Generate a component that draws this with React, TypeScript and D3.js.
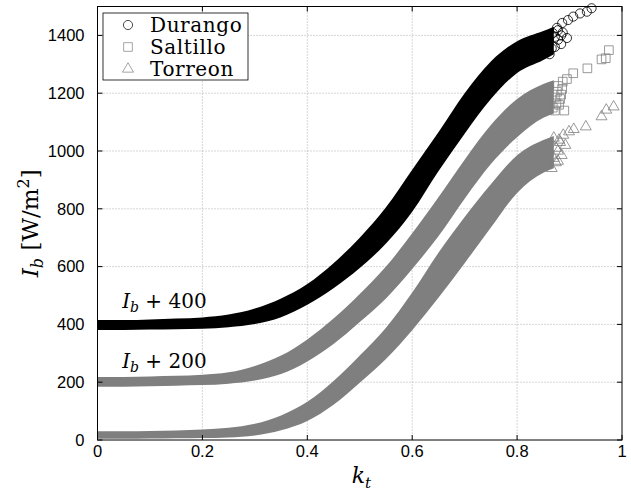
import { scaleLinear, area, curveMonotoneX, symbol, symbolCircle, symbolSquare, symbolTriangle } from "d3";

const width = 631;
const height = 495;
const margin = { top: 6.5, right: 9, bottom: 55, left: 97.5 };
const innerWidth = width - margin.left - margin.right;
const innerHeight = height - margin.top - margin.bottom;

const ktGrid = [0, 0.05, 0.1, 0.15, 0.2, 0.25, 0.3, 0.35, 0.4, 0.45, 0.5, 0.55, 0.6, 0.65, 0.7, 0.75, 0.8, 0.85, 0.87];

// Durango (Ib + 400), lower / upper edge of the point cloud
const durangoLow = [381, 381, 382, 383, 385, 390, 401, 425, 468, 525, 595, 680, 790, 930, 1060, 1180, 1270, 1315, 1335];
const durangoHigh = [415, 415, 417, 420, 424, 434, 455, 490, 540, 612, 700, 805, 935, 1065, 1200, 1310, 1380, 1415, 1430];
// Saltillo (Ib + 200)
const saltilloLow = [184, 184, 186, 188, 190, 195, 206, 228, 272, 332, 408, 490, 592, 705, 835, 955, 1048, 1115, 1130];
const saltilloHigh = [218, 218, 220, 222, 226, 234, 256, 292, 348, 420, 505, 600, 715, 840, 970, 1090, 1180, 1232, 1245];
// Torreon (Ib)
const torreonLow = [4, 4, 5, 6, 7, 9, 16, 34, 66, 122, 198, 280, 380, 492, 612, 735, 855, 925, 940];
const torreonHigh = [30, 30, 31, 33, 36, 42, 56, 85, 132, 204, 292, 388, 510, 648, 772, 885, 985, 1038, 1052];

// sparse points at and past the end of the clouds
const durangoTailKt = [0.862, 0.866, 0.868, 0.872, 0.872, 0.876, 0.878, 0.878, 0.884, 0.884, 0.886, 0.887, 0.895, 0.897, 0.907, 0.92, 0.933, 0.942];
const durangoTailVal = [1335, 1355, 1408, 1360, 1395, 1426, 1385, 1418, 1400, 1370, 1443, 1410, 1391, 1453, 1465, 1476, 1482, 1494];
const saltilloTailKt = [0.868, 0.872, 0.872, 0.875, 0.876, 0.878, 0.88, 0.882, 0.884, 0.886, 0.887, 0.89, 0.895, 0.907, 0.934, 0.961, 0.969, 0.975];
const saltilloTailVal = [1150, 1140, 1185, 1165, 1205, 1225, 1160, 1180, 1195, 1215, 1240, 1140, 1249, 1269, 1286, 1317, 1321, 1349];
const torreonTailKt = [0.866, 0.87, 0.87, 0.874, 0.874, 0.878, 0.878, 0.88, 0.882, 0.885, 0.888, 0.892, 0.899, 0.908, 0.931, 0.961, 0.97, 0.984];
const torreonTailVal = [940, 975, 1045, 960, 1010, 1000, 965, 1038, 1030, 985, 1055, 1020, 1067, 1075, 1084, 1119, 1142, 1153];

const seriesNames = ["Durango", "Saltillo", "Torreon"];
const offsetLabels = ["400", "200"];
const offsetLabelKt = [0.047, 0.047];
const offsetLabelVal = [457, 249];

const xTicks = [0, 0.2, 0.4, 0.6, 0.8, 1];
const xTickLabels = ["0", "0.2", "0.4", "0.6", "0.8", "1"];
const yTicks = [0, 200, 400, 600, 800, 1000, 1200, 1400];

const xScale = scaleLinear().domain([0, 1]).range([0, innerWidth]);
const yScale = scaleLinear().domain([0, 1500]).range([innerHeight, 0]);

const gray = "#7f7f7f";
const series = [
  { name: seriesNames[2], low: torreonLow, high: torreonHigh, tk: torreonTailKt, tv: torreonTailVal, color: gray, sym: symbolTriangle, size: 52 },
  { name: seriesNames[1], low: saltilloLow, high: saltilloHigh, tk: saltilloTailKt, tv: saltilloTailVal, color: gray, sym: symbolSquare, size: 75 },
  { name: seriesNames[0], low: durangoLow, high: durangoHigh, tk: durangoTailKt, tv: durangoTailVal, color: "#000", sym: symbolCircle, size: 66 },
];

const band = area<number>()
  .x((d) => xScale(ktGrid[d]))
  .curve(curveMonotoneX);

const sansFont = "'Liberation Sans', Arial, sans-serif";
const serifFont = "'DejaVu Serif', serif";

function App() {
  const idx = ktGrid.map((_, i) => i);
  const legendSeries = [series[2], series[1], series[0]];
  return (
    <svg width={width} height={height} style={{ position: "absolute", left: 0, top: 0 }}>
      <rect width={width} height={height} fill="#fff" />
      <g transform={`translate(${margin.left},${margin.top})`}>
        {/* grid */}
        {xTicks.slice(1, -1).map((t, i) => (
          <line key={"gx" + i} x1={xScale(t)} x2={xScale(t)} y1={0} y2={innerHeight}
            stroke="#9a9a9a" strokeWidth={0.8} strokeDasharray="1 2" />
        ))}
        {yTicks.slice(1).map((t, i) => (
          <line key={"gy" + i} x1={0} x2={innerWidth} y1={yScale(t)} y2={yScale(t)}
            stroke="#9a9a9a" strokeWidth={0.8} strokeDasharray="1 2" />
        ))}

        {/* dense point clouds */}
        {series.map((s) => (
          <path key={s.name}
            d={band.y0((d) => yScale(s.low[d])).y1((d) => yScale(s.high[d]))(idx) || ""}
            fill={s.color} />
        ))}
        {series.map((s) =>
          s.tk.map((k, i) => (
            <path key={s.name + i}
              transform={`translate(${xScale(k)},${yScale(s.tv[i])})`}
              d={symbol(s.sym, s.size)() || ""}
              fill="none" stroke={s.color} strokeWidth={0.8} />
          ))
        )}

        {/* offset notes */}
        {offsetLabels.map((l, i) => (
          <text key={"o" + i} x={xScale(offsetLabelKt[i])} y={yScale(offsetLabelVal[i])}
            fontFamily={serifFont} fontSize={20}>
            <tspan fontStyle="italic">I</tspan>
            <tspan fontStyle="italic" fontSize={14} dy={4}>b</tspan>
            <tspan dy={-4}>{" + " + l}</tspan>
          </text>
        ))}

        {/* axes box + ticks */}
        <rect x={0} y={0} width={innerWidth} height={innerHeight} fill="none" stroke="#000" strokeWidth={1} />
        {xTicks.map((t, i) => (
          <g key={"xt" + i}>
            <line x1={xScale(t)} x2={xScale(t)} y1={innerHeight} y2={innerHeight - 5} stroke="#000" />
            <line x1={xScale(t)} x2={xScale(t)} y1={0} y2={5} stroke="#000" />
            <text x={xScale(t)} y={innerHeight + 17} textAnchor="middle"
              fontFamily={sansFont} fontSize={16.5}>{xTickLabels[i]}</text>
          </g>
        ))}
        {yTicks.map((t, i) => (
          <g key={"yt" + i}>
            <line x1={0} x2={5} y1={yScale(t)} y2={yScale(t)} stroke="#000" />
            <line x1={innerWidth} x2={innerWidth - 5} y1={yScale(t)} y2={yScale(t)} stroke="#000" />
            <text x={-13} y={yScale(t)} dy="0.35em" textAnchor="end"
              fontFamily={sansFont} fontSize={16.5}>{t}</text>
          </g>
        ))}

        {/* legend */}
        <g transform="translate(5.5,6.5)">
          <rect x={0} y={0} width={145} height={67} fill="#fff" stroke="#000" strokeWidth={0.8} />
          {legendSeries.map((s, i) => (
            <g key={"lg" + i} transform={`translate(0,${12 + i * 22})`}>
              <path transform="translate(25,0)" d={symbol(s.sym, s.size)() || ""}
                fill="none" stroke={s.color} strokeWidth={0.7} />
              <text x={47} y={7} fontFamily={serifFont} fontSize={20} letterSpacing={0.6}>{s.name}</text>
            </g>
          ))}
        </g>
      </g>

      {/* axis titles */}
      <text x={margin.left + innerWidth / 2 - 8} y={483} fontFamily={serifFont} fontSize={22}>
        <tspan fontStyle="italic">k</tspan>
        <tspan fontStyle="italic" fontSize={15} dy={5}>t</tspan>
      </text>
      <text transform={`translate(38,${margin.top + innerHeight / 2}) rotate(-90)`} textAnchor="middle"
        fontFamily={serifFont} fontSize={23}>
        <tspan fontStyle="italic">I</tspan>
        <tspan fontStyle="italic" fontSize={16} dy={5}>b</tspan>
        <tspan dy={-5}>{" [W/m"}</tspan>
        <tspan fontSize={16} dy={-9}>2</tspan>
        <tspan dy={9}>]</tspan>
      </text>
    </svg>
  );
}

export default App;
